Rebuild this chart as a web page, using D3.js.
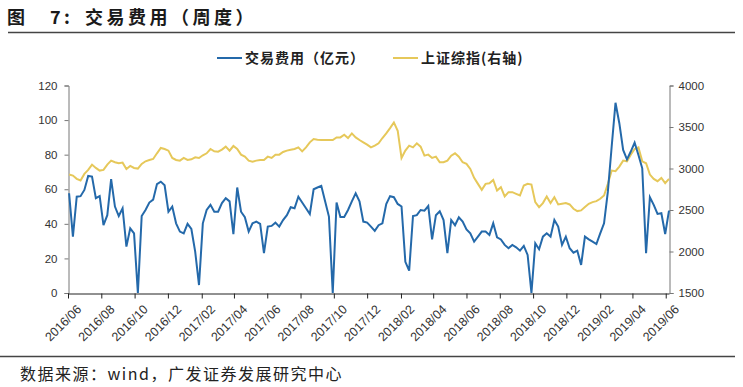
<!DOCTYPE html>
<html>
<head>
<meta charset="utf-8">
<script src="https://cdn.jsdelivr.net/npm/d3@7"></script>
<style>
body { margin: 0; background: #fff; }
svg text { font-family: "Liberation Sans", Arial, sans-serif; }
.cjk { font-family: "Noto Sans CJK SC", sans-serif; }
</style>
</head>
<body>
<script>
// weekly trading fee (100m CNY), left axis
const fees = [
  57.7, 32.6, 55.7, 56, 59.6, 67.7, 67.3, 54.8, 56, 39.3, 45, 65.8, 50, 44.5, 49, 26.8, 37.4, 34.5, 0,
  44.5, 48, 52.3, 54, 63, 64.4, 62.3, 47, 50, 40.3, 35.5, 34.5, 40, 37, 23.9, 4.6, 40.3, 48, 51, 47, 47,
  52, 54.8, 53, 34, 61, 47, 43.8, 35.5, 40.3, 41.3, 40, 23, 38.4, 38.8, 40.7, 38.4,
  42.2, 45, 49.6, 49, 55.7, 52.3, 49, 45.7, 60, 61, 62, 53, 44.2, 0, 52.3, 44, 44, 48, 53, 57.7, 53,
  41.3, 40.7, 38.4, 35.9, 39.2, 40.3, 51.5, 56, 55.4, 51.5, 50, 18, 12.9, 44.5, 45, 48, 47.6, 50.3, 31,
  45, 47.3, 42.2, 23, 42.2, 39.2, 43.8, 41.3, 36.8, 34.5, 29.7, 32.6,
  35.5, 35.5, 33.6, 40.3, 32.2, 31, 27.8, 25.9, 27.8, 26.4, 24.5, 27.2, 22, 0, 28.7, 25.3, 32.6, 34.5,
  32.6, 42.2, 38.4, 27.8, 32.6, 25.9, 23.3, 24.5, 16.2, 32.6, 31, 29.7, 28.3, 34.5, 40.3, 58.6, 84.7,
  110, 98.2, 82.7, 77.3, 81.8, 87, 79.8, 72.1, 23, 55.4, 51, 45.7, 46.1, 34.1, 47.6
];
// Shanghai composite, right axis
const shIndex = [
  2927, 2915, 2875, 2855, 2935, 2983, 3047, 3007, 2975, 2983, 3047, 3095, 3075, 3063, 3071, 2995, 3031,
  3007, 2999, 3055, 3087, 3103, 3115, 3183, 3247, 3235, 3215, 3127, 3103, 3095, 3127, 3103, 3111, 3135,
  3127, 3159, 3183, 3235, 3207, 3203, 3227, 3263, 3215, 3271, 3235, 3167, 3143, 3095, 3083, 3095, 3103,
  3103, 3143, 3127, 3167, 3167,
  3199, 3215, 3227, 3235, 3255, 3207, 3255, 3315, 3355, 3347, 3343, 3343, 3343, 3343, 3375, 3375, 3407,
  3367, 3423, 3375, 3343, 3315, 3287, 3255, 3275, 3303, 3367, 3423, 3487, 3555, 3455, 3127, 3215, 3275,
  3255, 3303, 3263, 3155, 3167, 3127, 3143, 3075, 3075, 3095, 3155, 3183, 3143, 3075, 3055, 2995, 2887,
  2815,
  2743, 2815, 2823, 2863, 2735, 2775, 2663, 2715, 2715, 2695, 2675, 2795, 2815, 2807, 2595, 2535, 2583,
  2663, 2583, 2655, 2567, 2575, 2583, 2567, 2515, 2487, 2495, 2535, 2575, 2595, 2607, 2635, 2675, 2815,
  2975, 2967, 3023, 3095, 3087, 3167, 3235, 3255, 3087, 3063, 2927, 2875, 2847, 2887, 2823, 2875
];
const tickLabels = ["2016/06", "2016/08", "2016/10", "2016/12", "2017/02", "2017/04", "2017/06",
  "2017/08", "2017/10", "2017/12", "2018/02", "2018/04", "2018/06", "2018/08", "2018/10", "2018/12",
  "2019/02", "2019/04", "2019/06"];
const leftTicks = [0, 20, 40, 60, 80, 100, 120];
const rightTicks = [1500, 2000, 2500, 3000, 3500, 4000];
const seriesNames = ["交易费用（亿元）", "上证综指(右轴)"];

function draw() {
  const width = 743, height = 387;
  const blue = "#2469AA", yellow = "#E6C85A";
  const parse = d3.timeParse("%Y/%m");
  const start = new Date(2016, 5, 3);
  const dates = fees.map((d, i) => d3.timeDay.offset(start, 7 * i));

  const svg = d3.select("body").append("svg")
    .attr("width", width).attr("height", height);

  // title, pieces placed like the report's spaced heading
  const title = [["图", 7], ["7:", 50], ["交易费用（周度）", 85]];
  svg.selectAll(".title").data(title).enter().append("text").attr("class", "cjk")
    .attr("x", d => d[1]).attr("y", 24)
    .attr("font-size", 18).attr("font-weight", "bold").attr("fill", "#1a1a1a")
    .attr("letter-spacing", 3.5)
    .text(d => d[0]);
  svg.append("line").attr("x1", 8).attr("x2", 735).attr("y1", 32.5).attr("y2", 32.5)
    .attr("stroke", "#444").attr("stroke-width", 1.5);
  svg.append("line").attr("x1", 0).attr("x2", 735).attr("y1", 356.5).attr("y2", 356.5)
    .attr("stroke", "#444").attr("stroke-width", 1.5);
  svg.append("text").attr("class", "cjk")
    .attr("x", 20).attr("y", 380).attr("font-size", 16).attr("fill", "#222")
    .attr("letter-spacing", 1.5)
    .text("数据来源：wind，广发证券发展研究中心");

  const x = d3.scaleTime()
    .domain([new Date(2016, 5, 1), dates[dates.length - 1]])
    .range([68, 669]);
  const yL = d3.scaleLinear().domain([0, 120]).range([293, 85.5]);
  const yR = d3.scaleLinear().domain([1500, 4000]).range([293, 85.5]);

  // axes
  const gl = svg.append("g").attr("transform", "translate(68.5,0)")
    .call(d3.axisLeft(yL).tickValues(leftTicks).tickSize(4).tickPadding(7));
  const gr = svg.append("g").attr("transform", "translate(669.5,0)")
    .call(d3.axisRight(yR).tickValues(rightTicks).tickSize(4).tickPadding(5).tickFormat(d3.format("d")));
  [gl, gr].forEach(g => {
    g.selectAll("path,line").attr("stroke", "#777");
    g.selectAll("text").attr("font-size", 11.5).attr("fill", "#333")
      .attr("font-family", "Liberation Sans, Arial, sans-serif");
  });

  const gx = svg.append("g").attr("transform", "translate(0,293.5)")
    .call(d3.axisBottom(x).tickValues(tickLabels.map(parse)).tickSize(5)
      .tickFormat(d3.timeFormat("%Y/%m")).tickSizeOuter(0));
  gx.select(".domain").attr("stroke", "#222");
  gx.selectAll("line").attr("stroke", "#222");
  gx.selectAll("text")
    .attr("font-size", 12.5).attr("fill", "#333")
    .attr("font-family", "Liberation Sans, Arial, sans-serif")
    .attr("text-anchor", "end")
    .attr("dy", 0)
    .attr("transform", "translate(8,11) rotate(-45)");

  // lines
  const lineL = d3.line().x((d, i) => x(dates[i])).y(d => yL(d));
  const lineR = d3.line().x((d, i) => x(dates[i])).y(d => yR(d));
  svg.append("path").datum(shIndex).attr("d", lineR)
    .attr("fill", "none").attr("stroke", yellow).attr("stroke-width", 2);
  svg.append("path").datum(fees).attr("d", lineL)
    .attr("fill", "none").attr("stroke", blue).attr("stroke-width", 2);

  // legend
  const legend = [
    { name: seriesNames[0], color: blue, x: 217 },
    { name: seriesNames[1], color: yellow, x: 393 }
  ];
  const lg = svg.selectAll(".lg").data(legend).enter().append("g")
    .attr("transform", d => "translate(" + d.x + ",58)");
  lg.append("line").attr("x1", 0).attr("x2", 25).attr("y1", 0).attr("y2", 0)
    .attr("stroke", d => d.color).attr("stroke-width", 2);
  lg.append("text").attr("class", "cjk")
    .attr("x", 28).attr("y", 5).attr("font-size", 14).attr("font-weight", "bold")
    .attr("letter-spacing", 1)
    .attr("fill", "#222")
    .text(d => d.name);
}
window.onload = draw;
</script>
</body>
</html>
